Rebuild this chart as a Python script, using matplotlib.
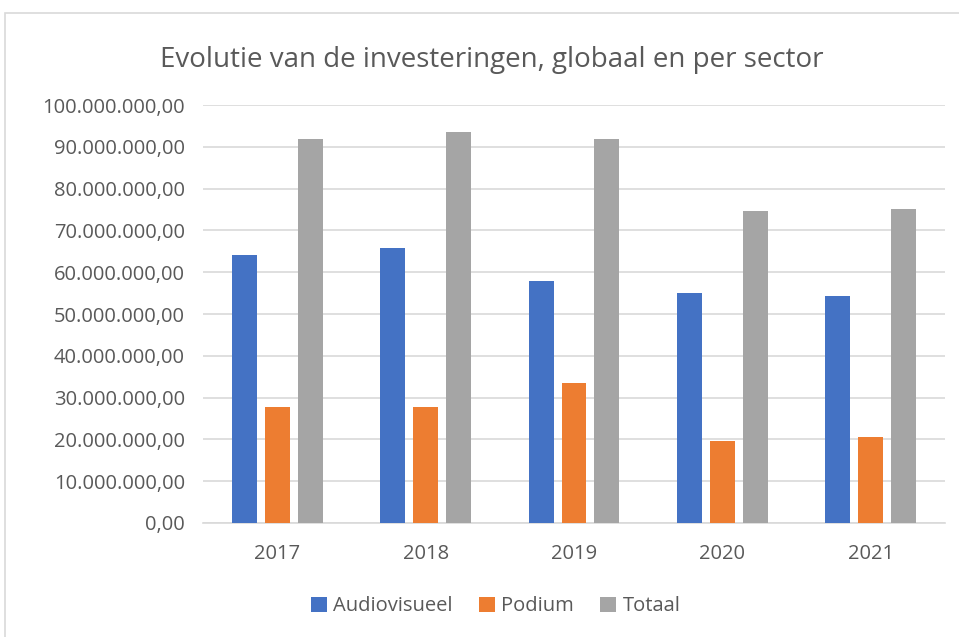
import matplotlib
matplotlib.use('Agg')
import matplotlib.pyplot as plt
from matplotlib.ticker import FuncFormatter, MultipleLocator
from matplotlib.patches import Rectangle
import numpy as np

years = ['2017', '2018', '2019', '2020', '2021']
audiovisueel = [64.2e6, 65.7e6, 57.9e6, 55.0e6, 54.4e6]
podium = [27.7e6, 27.7e6, 33.6e6, 19.5e6, 20.6e6]
totaal = [92.0e6, 93.6e6, 91.9e6, 74.6e6, 75.2e6]

plt.rcParams['font.family'] = ['Open Sans', 'DejaVu Sans']
text_col = '#595959'

fig = plt.figure(figsize=(9.59, 6.37), dpi=100)
# outer chart border (right and bottom edges fall outside the image)
fig.patches.append(Rectangle((0.0055, -0.2), 1.2, 1.18, transform=fig.transFigure,
                             fill=False, edgecolor='#d9d9d9', linewidth=1.2))
ax = fig.add_axes([0.2117, 0.179, 0.7737, 0.656])

x = np.arange(len(years))
w = 0.168
off = 0.222
ax.bar(x - off, audiovisueel, w, color='#4472c4', label='Audiovisueel', zorder=3)
ax.bar(x, podium, w, color='#ed7d31', label='Podium', zorder=3)
ax.bar(x + off, totaal, w, color='#a5a5a5', label='Totaal', zorder=3)

ax.set_xlim(-0.5, len(years) - 0.5)
ax.set_ylim(0, 100e6)
ax.yaxis.set_major_locator(MultipleLocator(10e6))

def nl_fmt(v, pos):
    s = '{:,.2f}'.format(v)
    return s.replace(',', 'X').replace('.', ',').replace('X', '.')

ax.yaxis.set_major_formatter(FuncFormatter(nl_fmt))
ax.set_xticks(x)
ax.set_xticklabels(years)
ax.grid(axis='y', color='#d9d9d9', linewidth=1.2, zorder=0)
for s in ['top', 'right', 'left']:
    ax.spines[s].set_visible(False)
ax.spines['bottom'].set_color('#d9d9d9')
ax.spines['bottom'].set_linewidth(1.2)
ax.tick_params(axis='both', length=0, labelsize=14.5, labelcolor=text_col)
ax.tick_params(axis='x', pad=15)
ax.tick_params(axis='y', pad=13)

fig.text(0.513, 0.906, 'Evolutie van de investeringen, globaal en per sector',
         ha='center', va='center', fontsize=20, color=text_col)
fig.legend(loc='center', bbox_to_anchor=(0.517, 0.048), ncol=3, frameon=False,
           fontsize=14.5, labelcolor=text_col, handlelength=0.8, handleheight=0.8,
           handletextpad=0.3, columnspacing=1.3)

fig.savefig('out.png', dpi=100)
